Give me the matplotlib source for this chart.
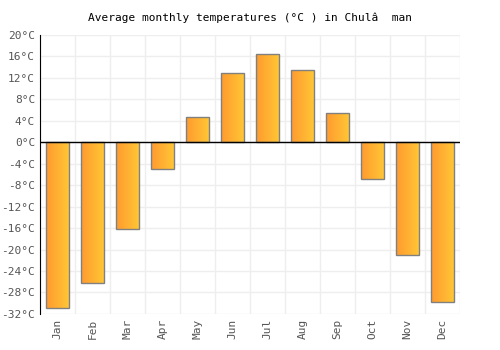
import numpy as np
import matplotlib.pyplot as plt
from matplotlib.colors import LinearSegmentedColormap

# ------------------------------
# DATA
# ------------------------------
months = ["Jan", "Feb", "Mar", "Apr", "May", "Jun",
          "Jul", "Aug", "Sep", "Oct", "Nov", "Dec"]
temps = [-30.8, -26.3, -16.1, -4.9, 4.8, 13.0,
         16.5, 13.4, 5.4, -6.9, -21.1, -29.7]
yticks = list(range(-32, 21, 4))
title = "Average monthly temperatures (°C ) in Chulâ  man"

# ------------------------------
# PLOT
# ------------------------------
fig = plt.figure(figsize=(5, 3.5), dpi=100)
ax = fig.add_axes([0.08, 0.103, 0.84, 0.797])

x = np.arange(len(months))
bars = ax.bar(x, temps, width=0.66, color="none", edgecolor="#808080",
              linewidth=1.0, zorder=3)

cmap = LinearSegmentedColormap.from_list("grad", ["#ff9a30", "#ffc835"])
grad = np.linspace(0, 1, 64).reshape(1, -1)
for b in bars:
    x0, y0 = b.get_x(), b.get_y()
    w, h = b.get_width(), b.get_height()
    im = ax.imshow(grad, cmap=cmap, aspect="auto", zorder=2,
                   extent=[x0, x0 + w, min(y0, y0 + h), max(y0, y0 + h)])
    im.set_clip_path(b)

ax.set_xlim(-0.5, len(months) - 0.5)
ax.set_ylim(-32, 20)
ax.set_yticks(yticks)
ax.set_yticklabels([f"{t}°C" for t in yticks])
ax.set_xticks(x)
ax.set_xticklabels(months, rotation=90)

ax.set_xticks(np.arange(-0.5, len(months), 1), minor=True)
ax.grid(True, which="minor", axis="x", color="#eeeeee", linewidth=1, zorder=0)
ax.grid(True, which="major", axis="y", color="#eeeeee", linewidth=1, zorder=0)
ax.tick_params(axis="x", which="both", length=0)
ax.tick_params(axis="y", length=0)
ax.tick_params(labelsize=8, labelcolor="#555555")
for lab in ax.get_xticklabels() + ax.get_yticklabels():
    lab.set_family("DejaVu Sans Mono")

ax.axhline(0, color="black", linewidth=1, zorder=4)
for s in ["top", "right", "bottom"]:
    ax.spines[s].set_visible(False)
ax.spines["left"].set_color("black")

fig.text(0.5, 0.95, title, ha="center", va="center",
         family="DejaVu Sans Mono", fontsize=8, color="black")

fig.savefig("out.png", dpi=100)
